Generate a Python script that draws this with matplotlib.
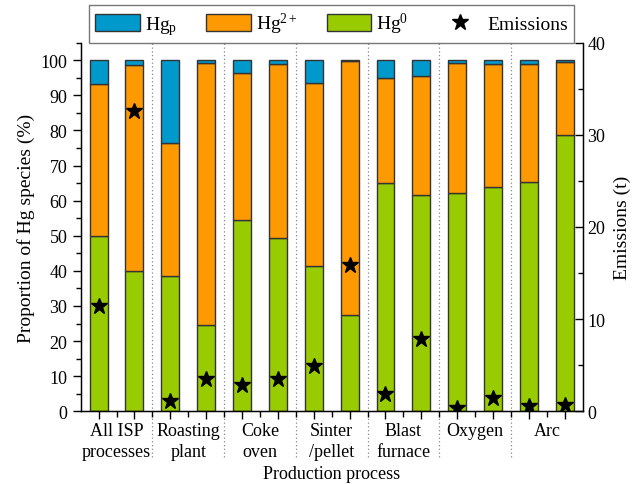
import matplotlib
matplotlib.use("Agg")
import matplotlib.pyplot as plt
import numpy as np
from matplotlib.ticker import MultipleLocator
from matplotlib.patches import Patch
from matplotlib.lines import Line2D

plt.rcParams['font.family'] = ['Liberation Serif', 'DejaVu Serif']
plt.rcParams['mathtext.fontset'] = 'custom'
plt.rcParams['mathtext.rm'] = 'Liberation Serif'
plt.rcParams['mathtext.it'] = 'Liberation Serif:italic'

# ===== DATA =====
groups = ["All ISP\nprocesses", "Roasting\nplant", "Coke\noven", "Sinter\n/pellet",
          "Blast\nfurnace", "Oxygen", "Arc"]
hg0 = [49.8, 40.1, 38.6, 24.7, 54.4, 49.5, 41.3, 27.5, 64.9, 61.5, 62.3, 64.0, 65.4, 78.6]
hg2 = [43.4, 58.5, 37.7, 74.5, 42.1, 49.4, 52.2, 72.3, 30.1, 33.9, 36.9, 35.0, 33.6, 20.9]
hgp = [6.8, 1.4, 23.7, 0.8, 3.5, 1.1, 6.5, 0.2, 5.0, 4.6, 0.8, 1.0, 1.0, 0.5]
emissions = [11.45, 32.6, 1.08, 3.5, 2.9, 3.5, 4.86, 15.9, 1.88, 7.84, 0.33, 1.44, 0.61, 0.68]

C_P = '#0099CC'
C_2 = '#FF9900'
C_0 = '#99CC00'
EDGE = '#333333'

x = np.arange(len(hg0))
width = 0.5

fig = plt.figure(figsize=(6.35, 4.85), dpi=100)
ax = fig.add_axes([0.127, 0.15, 0.7907, 0.7598])

b0 = np.array(hg0)
b2 = b0 + np.array(hg2)
ax.bar(x, hg0, width, color=C_0, edgecolor=EDGE, linewidth=1)
ax.bar(x, hg2, width, bottom=b0, color=C_2, edgecolor=EDGE, linewidth=1)
ax.bar(x, hgp, width, bottom=b2, color=C_P, edgecolor=EDGE, linewidth=1)

ax.set_xlim(-0.5, len(hg0) - 0.5)
ax.set_ylim(0, 105)
ax.yaxis.set_major_locator(MultipleLocator(10))
ax.yaxis.set_minor_locator(MultipleLocator(5))
ax.set_yticks(np.arange(0, 101, 10))
ax.set_xticks(x)
ax.set_xticklabels([])
ax.set_xticks(x[:-1] + 0.5, minor=True)
ax.tick_params(axis='x', which='major', direction='out', length=6, width=1)
ax.tick_params(axis='x', which='minor', direction='out', length=4, width=1)
ax.tick_params(axis='y', which='major', direction='out', length=6, width=1, labelsize=13)
ax.tick_params(axis='y', which='minor', direction='out', length=3.5, width=1)
ax.spines['top'].set_visible(False)
for s in ['left', 'bottom', 'right']:
    ax.spines[s].set_linewidth(1)
ax.set_ylabel('Proportion of Hg species (%)', fontsize=14, labelpad=4)

# separators between groups
for k in range(1, len(groups)):
    ax.axvline(2 * k - 0.5, ymin=-0.124, ymax=1, color='#888888', ls=(0, (1, 2)), lw=0.9,
               clip_on=False, zorder=0)

# group labels
for k, g in enumerate(groups):
    ax.text(2 * k + 0.5, -0.028, g, transform=ax.get_xaxis_transform(), ha='center',
            va='top', fontsize=13, linespacing=1.35)
fig.text(0.5 * (0.127 + 0.9177), 0.021, 'Production process', ha='center',
         va='center', fontsize=13)

ax2 = ax.twinx()
ax2.plot(x, emissions, ls='none', marker='*', color='black', markersize=12, zorder=5)
ax2.set_ylim(0, 40)
ax2.yaxis.set_major_locator(MultipleLocator(10))
ax2.yaxis.set_minor_locator(MultipleLocator(5))
ax2.tick_params(axis='y', which='major', direction='in', length=6, width=1, labelsize=13)
ax2.tick_params(axis='y', which='minor', direction='in', length=3.5, width=1)
ax2.spines['top'].set_visible(False)
ax2.set_ylabel('Emissions (t)', fontsize=14, labelpad=6)

handles = [Patch(facecolor=C_P, edgecolor=EDGE, label=r'Hg$_\mathrm{p}$'),
           Patch(facecolor=C_2, edgecolor=EDGE, label=r'Hg$^{2+}$'),
           Patch(facecolor=C_0, edgecolor=EDGE, label=r'Hg$^{0}$'),
           Line2D([], [], ls='none', marker='*', color='black', markersize=12,
                  label='Emissions')]
leg = fig.legend(handles=handles, loc='lower center', ncol=4,
                 bbox_to_anchor=(0.522, 0.9097), fontsize=14, frameon=True,
                 fancybox=False, edgecolor='#555555', handlelength=2.3,
                 handleheight=1.0, handletextpad=0.25, columnspacing=1.5,
                 borderpad=0.3, borderaxespad=0)
leg.get_frame().set_linewidth(1)

fig.savefig('out.png', dpi=100)
